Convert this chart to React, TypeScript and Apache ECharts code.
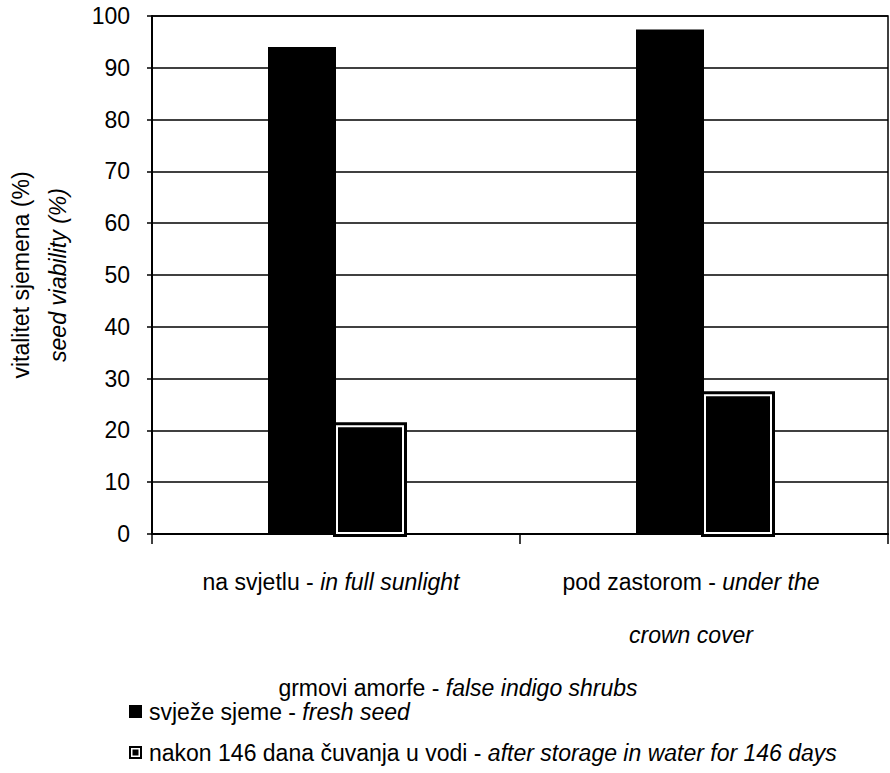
import React, { useEffect, useRef } from 'react';
import * as echarts from 'echarts';

// ---- data ----
const categoriesLocal = ['na svjetlu', 'pod zastorom'];
const categoriesEnglish = ['in full sunlight', 'under the\ncrown cover'];
const freshSeed = [94, 97.4];
const afterStorage = [21, 27];
const yMin = 0;
const yMax = 100;
const yInterval = 10;
const seriesLocal = ['svježe sjeme', 'nakon 146 dana čuvanja u vodi'];
const seriesEnglish = ['fresh seed', 'after storage in water for 146 days'];
const yTitle = ['vitalitet sjemena (%)', 'seed viability (%)'];
const xTitle = ['grmovi amorfe', 'false indigo shrubs'];

const FONT = '"Liberation Sans", Arial, Helvetica, sans-serif';
const FS = 23;
const BAR_W = 68;
const LABEL_SHIFT = [10, 26];

const seriesNames = seriesLocal.map((s, i) => `${s} - ${seriesEnglish[i]}`);
const categoryNames = categoriesLocal.map((c, i) => `${c} - ${categoriesEnglish[i].replace('\n', ' ')}`);

const richBase = {
  n: { fontSize: FS, fontFamily: FONT, color: '#000', lineHeight: 53 },
  i: { fontSize: FS, fontFamily: FONT, color: '#000', fontStyle: 'italic', lineHeight: 53 },
};

export default function App() {
  const ref = useRef<HTMLDivElement>(null);
  useEffect(() => {
    if (!ref.current) return;
    const chart = echarts.init(ref.current, undefined, { renderer: 'svg' });
    const option: any = {
      animation: false,
      backgroundColor: '#fff',
      textStyle: { fontFamily: FONT, color: '#000' },
      grid: {
        left: 152,
        right: 2,
        top: 16,
        bottom: 239,
        show: true,
        borderColor: '#000',
        borderWidth: 1.5,
        backgroundColor: 'transparent',
      },
      legend: {
        orient: 'vertical',
        left: 129,
        top: 700,
        padding: 0,
        itemWidth: 13,
        itemHeight: 13,
        itemGap: 18,
        selectedMode: false,
        data: [
          { name: seriesNames[0], icon: 'rect', itemStyle: { color: '#000', borderWidth: 0 } },
          {
            name: seriesNames[1],
            icon: 'path://M0,0H13V13H0Z M2,2V11H11V2Z M3.5,3.5H9.5V9.5H3.5Z',
            itemStyle: { color: '#000', borderWidth: 0 },
          },
        ],
        formatter: (name: string) => {
          const idx = seriesNames.indexOf(name);
          return `{n|${seriesLocal[idx]} - }{i|${seriesEnglish[idx]}}`;
        },
        textStyle: {
          padding: [0, 0, 0, 2],
          rich: {
            n: { fontSize: FS, fontFamily: FONT, color: '#000', lineHeight: 24 },
            i: { fontSize: FS, fontFamily: FONT, color: '#000', fontStyle: 'italic', lineHeight: 24 },
          },
        },
      },
      xAxis: {
        type: 'category',
        data: categoryNames.map((c, i) => ({
          value: c,
          textStyle: { padding: [0, LABEL_SHIFT[i], 0, 0] },
        })),
        axisLine: { show: true, lineStyle: { color: '#000', width: 2 } },
        axisTick: { show: true, length: 10, lineStyle: { color: '#000', width: 1.5 } },
        axisLabel: {
          interval: 0,
          margin: 21,
          formatter: (_v: string, idx: number) => {
            const en = categoriesEnglish[idx].split('\n');
            let s = `{n|${categoriesLocal[idx]} - }{i|${en[0]}}`;
            for (let k = 1; k < en.length; k++) s += `\n{i|${en[k]}}`;
            return s;
          },
          rich: richBase,
        },
        name: `{n|${xTitle[0]} - }{i|${xTitle[1]}}`,
        nameLocation: 'middle',
        nameGap: 142,
        nameTextStyle: {
          padding: [0, 124, 0, 0],
          rich: {
            n: { fontSize: FS, fontFamily: FONT, color: '#000', lineHeight: 24 },
            i: { fontSize: FS, fontFamily: FONT, color: '#000', fontStyle: 'italic', lineHeight: 24 },
          },
        },
      },
      yAxis: {
        type: 'value',
        min: yMin,
        max: yMax,
        interval: yInterval,
        axisLine: { show: true, lineStyle: { color: '#000', width: 2 } },
        axisTick: { show: true, length: 5, lineStyle: { color: '#000', width: 1.5 } },
        splitLine: { show: true, lineStyle: { color: '#000', width: 1.5 } },
        axisLabel: { color: '#000', fontSize: FS, fontFamily: FONT, margin: 22 },
        name: `{a|${yTitle[0]}}\n{b|${yTitle[1]}}`,
        nameLocation: 'middle',
        nameRotate: 90,
        nameGap: 76,
        nameTextStyle: {
          rich: {
            a: { fontSize: FS, fontFamily: FONT, color: '#000', lineHeight: 37 },
            b: { fontSize: FS, fontFamily: FONT, color: '#000', fontStyle: 'italic', lineHeight: 37 },
          },
        },
      },
      series: [
        {
          name: seriesNames[0],
          type: 'bar',
          data: freshSeed,
          barWidth: BAR_W,
          barGap: '0%',
          itemStyle: { color: '#000' },
          z: 3,
        },
        {
          name: seriesNames[1],
          type: 'bar',
          data: afterStorage,
          barWidth: BAR_W,
          barGap: '0%',
          itemStyle: { color: '#000', borderColor: '#fff', borderWidth: 2 },
          z: 3,
        },
        {
          name: 'outline',
          type: 'custom',
          silent: true,
          z: 2,
          data: afterStorage.map((v, i) => [i, v]),
          renderItem: (_p: any, api: any) => {
            const top = api.coord([api.value(0), api.value(1)]);
            const base = api.coord([api.value(0), 0]);
            return {
              type: 'rect',
              shape: { x: top[0], y: top[1], width: BAR_W, height: base[1] - top[1] },
              style: { fill: 'none', stroke: '#000', lineWidth: 6 },
            };
          },
        },
      ],
    };
    chart.setOption(option);
    return () => chart.dispose();
  }, []);
  return (
    <div
      ref={ref}
      style={{ position: 'fixed', left: 0, top: 0, width: 890, height: 773, background: '#fff' }}
    />
  );
}
